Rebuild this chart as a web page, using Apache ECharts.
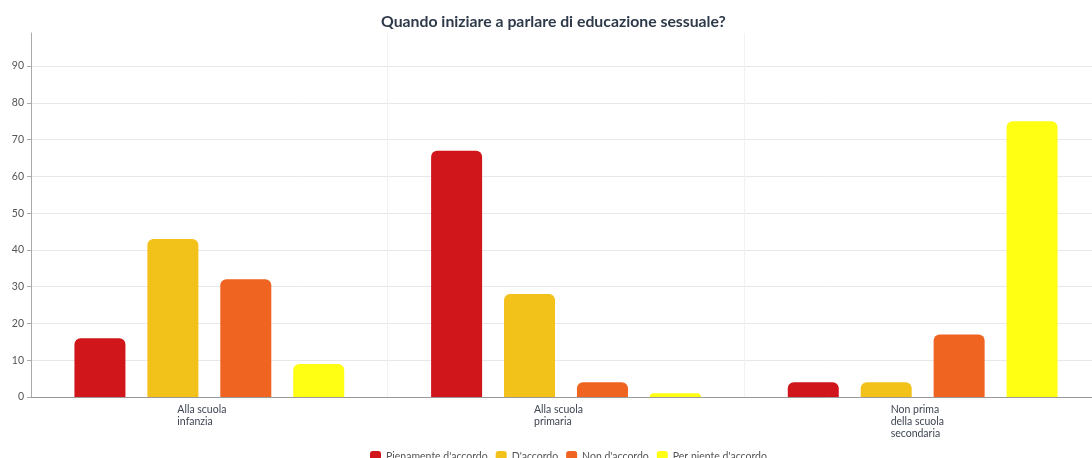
<!DOCTYPE html>
<html>
<head>
<meta charset="utf-8">
<script src="https://cdn.jsdelivr.net/npm/echarts@6/dist/echarts.min.js"></script>
<style>
  html, body { margin: 0; padding: 0; background: #fff; }
  #chart { width: 1092px; height: 458px; }
</style>
</head>
<body>
<div id="chart"></div>
<script>
// Categories (school stage) and answer series
const categories = ['Alla scuola\ninfanzia', 'Alla scuola\nprimaria', 'Non prima\ndella scuola\nsecondaria'];
const seriesNames = ['Pienamente d\'accordo', 'D\'accordo', 'Non d\'accordo', 'Per niente d\'accordo'];
const pienamente = [16, 67, 4];
const daccordo = [43, 28, 4];
const nonDaccordo = [32, 4, 17];
const perNiente = [9, 1, 75];
const yTicks = [0, 10, 20, 30, 40, 50, 60, 70, 80, 90];

const colors = ['#d0151b', '#f2c11a', '#f06422', '#ffff14'];
const values = [pienamente, daccordo, nonDaccordo, perNiente];
const font = 'Lato, "Noto Sans", sans-serif';

const chart = echarts.init(document.getElementById('chart'), null, { renderer: 'canvas' });

chart.setOption({
  animation: false,
  textStyle: { fontFamily: font },
  title: {
    text: 'Quando iniziare a parlare di educazione sessuale?',
    left: 376,
    top: 9,
    textStyle: { fontSize: 15.8, fontWeight: 'bold', color: '#2e3a4a', fontFamily: font }
  },
  legend: {
    data: seriesNames,
    left: 365,
    top: 446,
    itemWidth: 11,
    itemHeight: 11,
    itemGap: 8,
    icon: 'roundRect',
    textStyle: { fontSize: 10.5, color: '#555', fontFamily: font }
  },
  // plot area runs a little past the right edge of the canvas
  grid: { left: 31, top: 33, width: 1070, height: 364, outerBoundsMode: 'none', containLabel: false },
  xAxis: {
    type: 'category',
    data: categories,
    axisLine: { lineStyle: { color: '#999' } },
    axisTick: { alignWithLabel: true, length: 4, lineStyle: { color: '#999' }, interval: 0 },
    splitLine: { show: true, interval: 0, lineStyle: { color: '#f2f2f2' } },
    axisLabel: {
      margin: 7,
      interval: 0,
      width: 64,
      formatter: v => v.split('\n').map(s => '{a|' + s + '}').join('\n'),
      rich: { a: { align: 'left', fontSize: 10.5, lineHeight: 12, color: '#3e4552', fontFamily: font } }
    }
  },
  yAxis: {
    type: 'value',
    min: yTicks[0],
    max: 99,
    interval: yTicks[1] - yTicks[0],
    axisLine: { show: true, lineStyle: { color: '#aaa' } },
    axisTick: { show: true, length: 4, lineStyle: { color: '#aaa' } },
    splitLine: { show: true, showMaxLine: false, lineStyle: { color: '#e8e8e8' } },
    axisLabel: {
      showMaxLabel: false,
      margin: 7,
      fontSize: 10.5,
      color: '#555',
      fontFamily: font
    }
  },
  series: seriesNames.map((name, i) => ({
    name,
    type: 'bar',
    data: values[i],
    barWidth: 51,
    barGap: '43%',
    itemStyle: { color: colors[i], borderRadius: [6, 6, 0, 0] }
  }))
});
</script>
</body>
</html>
